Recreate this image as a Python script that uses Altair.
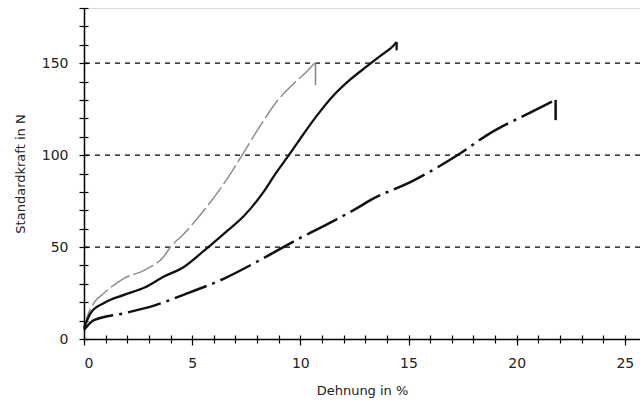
import altair as alt
import pandas as pd

# Gray curve (thin, light); last point = end drop
gray_x = [0, 0.15, 0.46, 0.93, 1.85, 2.8, 3.7, 4.0, 4.6, 5.55, 6.5, 7.1, 7.36, 8.15, 8.9, 9.7, 10.3, 10.7, 10.7]
gray_y = [5, 12, 19.6, 25, 33, 37.5, 45, 50, 57, 70, 85, 96, 101, 116, 129, 139, 145.5, 150.5, 138]

# Black solid curve; last point = end hook
solid_x = [0, 0.3, 0.93, 1.85, 2.8, 3.7, 4.6, 5.55, 6.5, 7.4, 8.3, 8.8, 9.5, 10, 10.8, 11.5, 12.3, 13.1, 13.7, 14.3, 14.45, 14.45]
solid_y = [6, 14, 19.6, 24, 28, 34, 39, 48, 57.6, 67, 80, 89, 100.5, 109, 122, 132, 141, 148.5, 154, 159.5, 161.5, 157]

# Black dash-dot curve; last point = end drop
dd_x = [0, 0.46, 1.85, 3.2, 4.6, 6.5, 8.15, 10, 11.5, 12.6, 13.24, 15.2, 17.4, 18.65, 20.6, 21.8, 21.8]
dd_y = [5, 10.3, 14, 18, 24, 33, 43, 55, 64, 71, 75.5, 86, 101, 111, 123, 130, 119]

grid_levels = [50, 100, 150]
x_ticks = list(range(0, 26))
y_ticks = list(range(0, 181, 10))

def body(xs, ys):
    n = len(xs) - 1
    return pd.DataFrame({"x": xs[:n], "y": ys[:n], "i": list(range(n))})

def tail(xs, ys):
    return pd.DataFrame({"x": xs[-2:], "y": ys[-2:], "i": [0, 1]})

df_grid = pd.DataFrame({"y": grid_levels})

xscale = alt.Scale(domain=[0, 25.7], nice=False, zero=False)
yscale = alt.Scale(domain=[0, 180], nice=False, zero=False)

font = "DejaVu Sans"

x_axis = alt.Axis(
    values=x_ticks,
    labelExpr="datum.value % 5 === 0 ? datum.label : ''",
    tickSize={"condition": {"test": "datum.value % 5 === 0", "value": 6}, "value": 4},
    title="Dehnung in %",
    grid=False,
    domainColor="black", domainWidth=1.5,
    tickColor="black", tickWidth=1.2,
    labelFont=font, labelFontSize=14, labelColor="#222", labelPadding=11,
    titleFont=font, titleFontSize=13, titleFontWeight="normal", titleColor="#222",
    titlePadding=14,
)
y_axis = alt.Axis(
    values=y_ticks,
    labelExpr="datum.value % 50 === 0 ? datum.label : ''",
    tickSize=5,
    title="Standardkraft in N",
    grid=False,
    domainColor="black", domainWidth=1.5,
    tickColor="black", tickWidth=1.2,
    labelFont=font, labelFontSize=14, labelColor="#222", labelPadding=11,
    titleFont=font, titleFontSize=13, titleFontWeight="normal", titleColor="#222",
    titlePadding=14,
)

grid = alt.Chart(df_grid).mark_rule(color="black", strokeDash=[5, 5], strokeWidth=1.2).encode(
    y=alt.Y("y:Q", scale=yscale, axis=y_axis)
)

def line(df, **kw):
    return alt.Chart(df).mark_line(**kw).encode(
        x=alt.X("x:Q", scale=xscale, axis=x_axis),
        y=alt.Y("y:Q", scale=yscale, axis=y_axis),
        order="i:Q",
    )

layers = [grid]
layers.append(line(body(gray_x, gray_y), color="#8a8a8a", strokeWidth=1.4, strokeDash=[22, 4], interpolate="monotone"))
layers.append(line(tail(gray_x, gray_y), color="#8a8a8a", strokeWidth=1.6))
layers.append(line(body(solid_x, solid_y), color="#111", strokeWidth=2.3, interpolate="monotone"))
layers.append(line(tail(solid_x, solid_y), color="#111", strokeWidth=2.3))
layers.append(line(body(dd_x, dd_y), color="#111", strokeWidth=2.5, strokeDash=[34, 6, 3, 6], interpolate="monotone"))
layers.append(line(tail(dd_x, dd_y), color="#111", strokeWidth=2.5))

main = alt.layer(*layers)

# inner tick halves so the ticks cross the axis lines
inner = alt.Chart(body(solid_x, solid_y)).mark_point(opacity=0).encode(
    x=alt.X("x:Q", scale=xscale, axis=alt.Axis(
        values=x_ticks, orient="bottom", offset=-4, domain=False, labels=False, title=None,
        grid=False, tickColor="black", tickWidth=1.2,
        tickSize={"condition": {"test": "datum.value % 5 === 0", "value": 6}, "value": 4})),
    y=alt.Y("y:Q", scale=yscale, axis=alt.Axis(
        values=y_ticks, orient="left", offset=-4, domain=False, labels=False, title=None,
        grid=False, tickColor="black", tickWidth=1.2, tickSize=4)),
)

chart = alt.layer(main, inner).resolve_axis(x="independent", y="independent").properties(
    width=556, height=331,
    autosize=alt.AutoSizeParams(type="none"),
    padding={"left": 84, "top": 8, "right": 0, "bottom": 64},
).configure_view(stroke=None).configure(background="white")

chart.save("out.html", embed_options={"renderer": "svg", "actions": False})
